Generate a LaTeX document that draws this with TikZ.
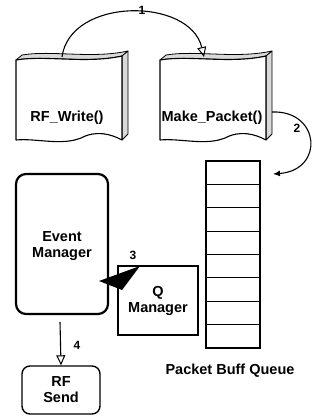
\documentclass[tikz,border=0pt]{standalone}
\usepackage{fontspec}
\setmainfont{Liberation Sans}
\usetikzlibrary{arrows.meta}
\begin{document}
\begin{tikzpicture}[x=1pt,y=-1pt,
  lbl/.style={font=\bfseries\fontsize{14.5}{16}\selectfont,align=center,inner sep=0pt},
  num/.style={font=\bfseries\fontsize{12}{12}\selectfont,inner sep=0pt},
  link/.style={line width=1.1pt},
  shade3d/.style={fill=gray!30,draw=black,line width=0.8pt,line join=round},
  face/.style={fill=white,draw=black,line width=1.1pt,line join=round},
  openhead/.style={-{Triangle[open,length=10pt,width=9pt,line width=1pt]}},
  card/.pic={
    % top strip, side strip, then the wavy front face
    \path[shade3d] (0,0) .. controls (30,-5) and (70,4) .. (106,-4) -- (112,-9)
      .. controls (76,-1) and (36,-10) .. (6,-5) -- cycle;
    \path[shade3d] (106,-4) -- (112,-9) -- (112,74) -- (106,80) -- cycle;
    \path[face] (0,0) .. controls (30,-5) and (70,4) .. (106,-4) -- (106,80)
      .. controls (95,74) and (80,70) .. (65,78) .. controls (45,86) and (20,78) .. (0,80) -- cycle;
  }
]
\useasboundingbox (0,0) rectangle (326,416);

% function cards
\pic at (16,60) {card};
\node[lbl] (rfw) at (67,118) {RF\_Write()};
\pic at (160,60) {card};
\node[lbl] (mkp) at (212,118) {Make\_Packet()};

\coordinate (rfw-top) at (62,57);
\coordinate (mkp-top) at (204,57);
\coordinate (mkp-side) at (272,112);
\coordinate (queue-in) at (273,174);

% packet buffer queue
\node[draw,line width=1.1pt,minimum width=54,minimum height=187,inner sep=0pt] (queue) at (233,254.5) {};
\foreach \i in {1,...,7}
  \draw[line width=1pt] (206,161+\i*23.375) -- (260,161+\i*23.375);
\node[lbl] (qlbl) at (230,371) {Packet Buff Queue};

% event manager and queue manager
\node[draw,line width=2.2pt,rounded corners=10pt,minimum width=92,minimum height=140,inner sep=0pt] (evm) at (62,244) {};
\node[lbl] (evmtxt) at (62,246) {Event\\Manager};
\node[draw,fill=white,line width=1.1pt,minimum width=80,minimum height=69,inner sep=0pt] (qm) at (158,300.5) {};
\node[lbl] (qmtxt) at (158,301) {Q\\Manager};
\coordinate (push-tip) at (99,281);
\fill (push-tip) -- (140,266) -- (122,290) -- cycle;

% radio send
\node[draw,line width=1.4pt,rounded corners=8pt,minimum width=78,minimum height=48,inner sep=0pt] (rfs) at (61,390) {};
\node[lbl] (rfstxt) at (61,390) {RF\\Send};
\coordinate (evm-out) at (60,322);

% connectors
\draw[link,openhead] (rfw-top) .. controls (70,-3) and (190,-3) .. (mkp-top);
\draw[link,-{Latex[length=7pt,width=6pt]}] (mkp-side) .. controls (320,110) and (325,170) .. (queue-in);
\draw[link,openhead] (evm-out) -- (rfs.north);

% step numbers
\node[num] (n1) at (142,10) {1};
\node[num] (n2) at (297,128) {2};
\node[num] (n3) at (133,255) {3};
\node[num] (n4) at (77,345) {4};
\end{tikzpicture}
\end{document}
